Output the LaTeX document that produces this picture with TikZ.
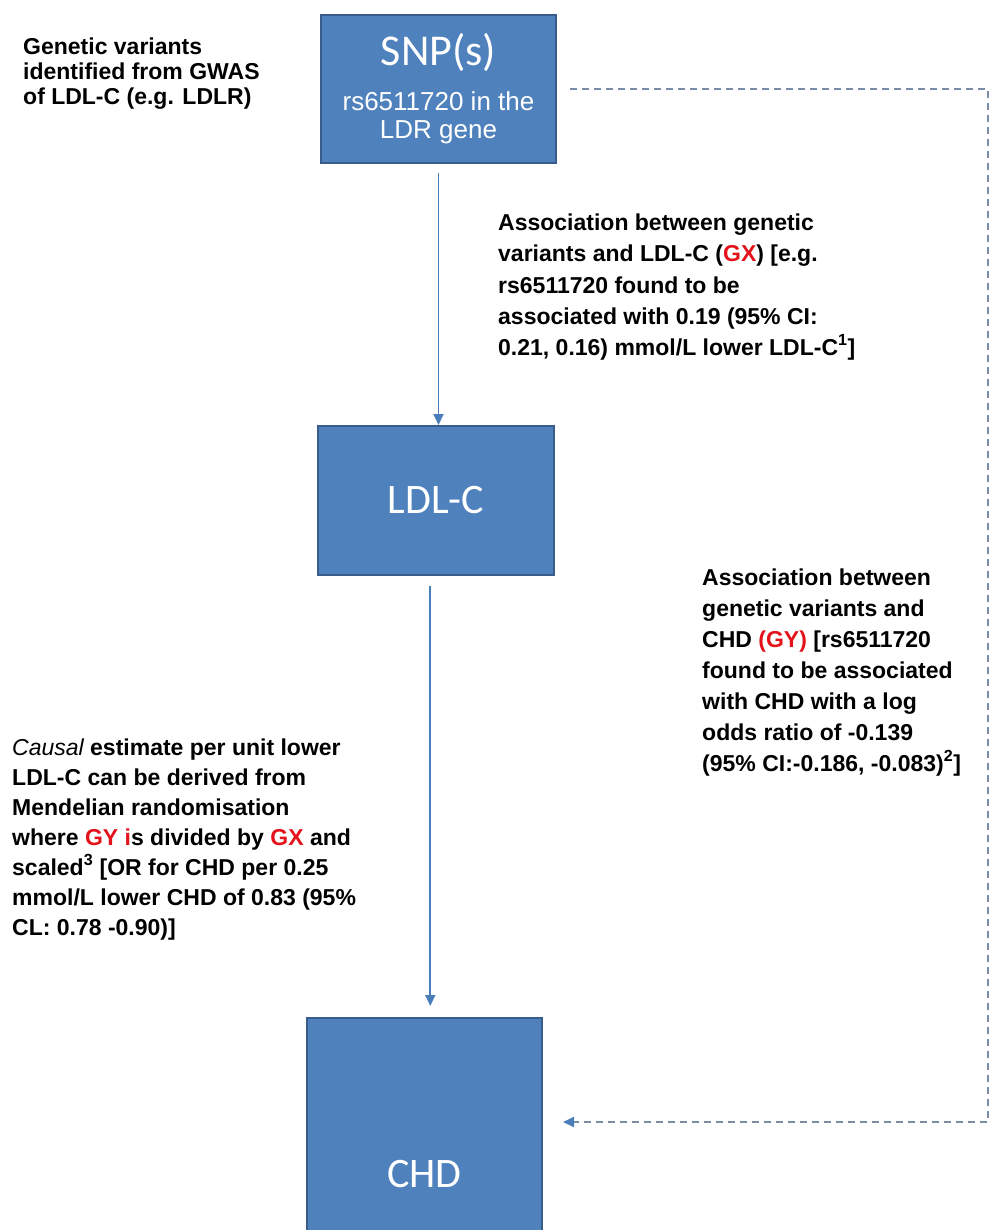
\documentclass[tikz,border=0pt]{standalone}
\usepackage{fontspec}
\setmainfont{Liberation Sans}
\newfontfamily\boxfont{Carlito}
\usetikzlibrary{calc,arrows.meta}
\definecolor{boxfill}{HTML}{4F81BD}
\definecolor{boxedge}{HTML}{385D8A}
\definecolor{flow}{HTML}{4A7EBB}
\definecolor{dashgrey}{HTML}{7A8CA8}
\definecolor{gxred}{HTML}{E3121B}
\newcommand{\hl}[1]{\textcolor{gxred}{#1}}
\newcommand{\boxtitle}{\boxfont\fontsize{42}{46}\selectfont}
\tikzset{
  box/.style={draw=boxedge, fill=boxfill, line width=2pt, text=white, inner sep=0pt,
    minimum width=235pt, minimum height=148pt, align=center},
  link/.style={draw=flow, line width=1.8pt, -{Triangle[length=11pt,width=10pt]}},
  gylink/.style={draw=dashgrey, line width=1.8pt, dash pattern=on 7pt off 5pt,
    -{Triangle[length=11pt,width=10pt,color=flow]}},
  note/.style={anchor=base west, align=left, inner sep=0pt,
    font=\bfseries\fontsize{23}{31}\selectfont},
}

\begin{document}
\begin{tikzpicture}[x=1pt,y=-1pt]
  \clip (0,0) rectangle (998,1230);
  % boxes
  \node[box, font=\fontsize{26}{28}\selectfont] (snp) at (438.5,89)
    {{\boxfont\fontsize{44}{48}\selectfont SNP(s)}\\[17pt]rs6511720 in the\\LDR gene};
  \node[box, minimum width=236pt, minimum height=149pt] (ldl) at (436,500.5) {\boxtitle LDL-C};
  \node[box, minimum height=312pt] (chd) at (424.5,1174) {\boxtitle CHD};
  % notes (placed at the baseline of their last line)
  \node[note, font=\bfseries\fontsize{23}{25}\selectfont] (gwas) at (23,105)
    {Genetic variants\\identified from GWAS\\of LDL-C (e.g. LDLR)};
  \node[note] (gxnote) at (498,355)
    {Association between genetic\\variants and LDL-C (\hl{GX}) [e.g.\\rs6511720 found to be\\associated with 0.19 (95\% CI:\\0.21, 0.16) mmol/L lower LDL-C\textsuperscript{1}]};
  \node[note] (gynote) at (702,771)
    {Association between\\genetic variants and\\CHD \hl{(GY)} [rs6511720\\found to be associated\\with CHD with a log\\odds ratio of -0.139\\(95\% CI:-0.186, -0.083)\textsuperscript{2}]};
  \node[note, font=\bfseries\fontsize{23}{30}\selectfont] (causal) at (12,935)
    {{\mdseries\itshape Causal} estimate per unit lower\\LDL-C can be derived from\\Mendelian randomisation\\where \hl{GY i}s divided by \hl{GX} and\\scaled\textsuperscript{3} [OR for CHD per 0.25\\mmol/L lower CHD of 0.83 (95\%\\CL: 0.78 -0.90)]};
  % connectors
  \coordinate (stem) at ($(ldl.south)!.5!(chd.north)$);
  \coordinate (ldlout) at ([yshift=-10pt]ldl.south);
  \coordinate (chdin) at ([yshift=11pt]chd.north);
  \coordinate (dashcorner) at (988,87);
  \coordinate (gyin) at (563,1122);
  \draw[link] ([yshift=-9pt]snp.south) -- (snp.south |- ldl.north);
  \draw[link] (ldlout -| stem) -- (chdin -| stem);
  \draw[gylink] ([xshift=13pt]snp.east) -- (snp.east -| dashcorner) |- (gyin);
\end{tikzpicture}
\end{document}
